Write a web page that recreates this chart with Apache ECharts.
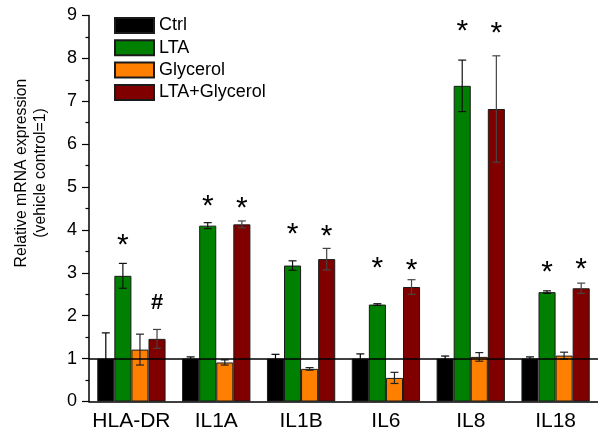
<!DOCTYPE html>
<html>
<head>
<meta charset="utf-8">
<script src="https://cdn.jsdelivr.net/npm/echarts@6/dist/echarts.min.js"></script>
<style>html,body{margin:0;padding:0;background:#fff;}#c{width:598px;height:441px;}</style>
</head>
<body>
<div id="c"></div>
<script>
const categories = ['HLA-DR', 'IL1A', 'IL1B', 'IL6', 'IL8', 'IL18'];
const seriesNames = ['Ctrl', 'LTA', 'Glycerol', 'LTA+Glycerol'];
const ctrlVals = [1.0, 1.0, 1.0, 1.0, 1.0, 1.0];
const ctrlErr = [0.6, 0.04, 0.1, 0.11, 0.06, 0.04];
const ltaVals = [2.93, 4.10, 3.17, 2.26, 7.36, 2.55];
const ltaErr = [0.29, 0.07, 0.11, 0.02, 0.6, 0.03];
const glyVals = [1.21, 0.91, 0.76, 0.55, 1.04, 1.07];
const glyErr = [0.36, 0.06, 0.03, 0.13, 0.1, 0.08];
const ltaGlyVals = [1.46, 4.13, 3.32, 2.67, 6.82, 2.64];
const ltaGlyErr = [0.22, 0.08, 0.25, 0.17, 1.24, 0.12];
// significance marks: [category index, series index, y position, symbol]
const marks = [
  [0, 1, 3.76, '*'], [0, 3, 2.29, '#'],
  [1, 1, 4.66, '*'], [1, 3, 4.62, '*'],
  [2, 1, 4.01, '*'], [2, 3, 3.96, '*'],
  [3, 1, 3.22, '*'], [3, 3, 3.17, '*'],
  [4, 1, 8.74, '*'], [4, 3, 8.68, '*'],
  [5, 1, 3.12, '*'], [5, 3, 3.20, '*']
];
const yTicks = [0, 1, 2, 3, 4, 5, 6, 7, 8, 9];

const colors = ['#000000', '#008000', '#ff8000', '#800000'];
const errColors = ['#000000', '#111111', '#222222', '#444444'];
const vals = [ctrlVals, ltaVals, glyVals, ltaGlyVals];
const errs = [ctrlErr, ltaErr, glyErr, ltaGlyErr];
const GROUP = 0.805;
const FONT = '"Liberation Sans", Arial, sans-serif';

function errRender(si) {
  return function (params, api) {
    const ci = api.value(0), v = api.value(1), e = api.value(2);
    const band = api.size([1, 0])[0];
    const bw = band * GROUP / 4;
    const off = (si - 1.5) * bw;
    const hi = api.coord([ci, v + e]);
    const lo = api.coord([ci, v - e]);
    const x = hi[0] + off;
    const cap = 4;
    const st = { stroke: errColors[si], lineWidth: 1.2 };
    return {
      type: 'group',
      children: [
        { type: 'line', shape: { x1: x, y1: hi[1], x2: x, y2: lo[1] }, style: st },
        { type: 'line', shape: { x1: x - cap, y1: hi[1], x2: x + cap, y2: hi[1] }, style: st },
        { type: 'line', shape: { x1: x - cap, y1: lo[1], x2: x + cap, y2: lo[1] }, style: st }
      ]
    };
  };
}

const series = [];
seriesNames.forEach((n, si) => {
  const s = {
    name: n, type: 'bar', data: vals[si],
    barGap: '0%', barCategoryGap: ((1 - GROUP) * 100) + '%',
    itemStyle: { color: colors[si], borderColor: '#1a1a1a', borderWidth: 1 },
    emphasis: { disabled: true }, z: 2
  };
  if (si === 0) {
    s.markLine = {
      silent: true, symbol: 'none', label: { show: false },
      lineStyle: { color: '#000', width: 1.5, type: 'solid' },
      data: [{ yAxis: 1 }], z: 5
    };
  }
  series.push(s);
});
seriesNames.forEach((n, si) => {
  series.push({
    type: 'custom', renderItem: errRender(si), z: 4, silent: true,
    data: categories.map((c, i) => [i, vals[si][i], errs[si][i]])
  });
});
series.push({
  type: 'custom', z: 6, silent: true,
  data: marks.map(m => [m[0], m[2], m[1], m[3]]),
  renderItem: function (params, api) {
    const ci = api.value(0), y = api.value(1), si = api.value(2);
    const m = marks[params.dataIndex];
    const band = api.size([1, 0])[0];
    const bw = band * GROUP / 4;
    const p = api.coord([ci, y]);
    const isHash = m[3] === '#';
    return {
      type: 'text',
      x: p[0] + (si - 1.5) * bw,
      y: p[1] + (isHash ? 0 : 5),
      style: {
        text: m[3], fill: '#000',
        font: isHash ? 'bold 22px ' + FONT : '30px ' + FONT,
        textAlign: 'center', textVerticalAlign: 'middle'
      }
    };
  }
});

const chart = echarts.init(document.getElementById('c'));
chart.setOption({
  animation: false,
  backgroundColor: '#fff',
  textStyle: { fontFamily: FONT },
  grid: { left: 89, top: 15.5, bottom: 39.5, right: -7.6, containLabel: false },
  legend: {
    orient: 'vertical', left: 109, top: 11.5,
    icon: 'rect',
    itemWidth: 39, itemHeight: 15, itemGap: 4.3,
    data: seriesNames,
    textStyle: { fontSize: 18, color: '#000', fontFamily: FONT },
    selectedMode: false
  },
  xAxis: {
    type: 'category', data: categories,
    axisLine: { lineStyle: { color: '#000', width: 1.5 } },
    axisTick: { alignWithLabel: true, length: 7, lineStyle: { color: '#000', width: 1.2 } },
    axisLabel: { fontSize: 21, color: '#000', margin: 9, fontFamily: FONT, interval: 0 }
  },
  yAxis: {
    type: 'value', min: yTicks[0], max: yTicks[yTicks.length - 1], interval: 1,
    splitLine: { show: false },
    axisLine: { show: true, lineStyle: { color: '#000', width: 1.5 } },
    axisTick: { show: true, length: 7, lineStyle: { color: '#000', width: 1.2 } },
    minorTick: { show: true, splitNumber: 2, length: 3.5, lineStyle: { color: '#000', width: 1.2 } },
    axisLabel: { fontSize: 18, color: '#000', margin: 12, fontFamily: FONT }
  },
  graphic: [{
    type: 'text', x: 31, y: 173, rotation: Math.PI / 2,
    style: {
      text: 'Relative mRNA expression\n(vehicle control=1)',
      font: '15.8px ' + FONT, fill: '#000', lineHeight: 18.5,
      textAlign: 'center', textVerticalAlign: 'middle'
    }
  }],
  series: series
});
</script>
</body>
</html>
